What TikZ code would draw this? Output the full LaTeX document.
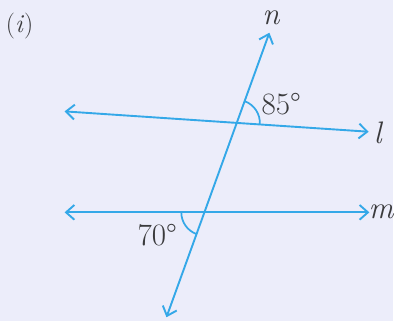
\documentclass[tikz,border=0pt]{standalone}
\definecolor{paperbg}{RGB}{236,237,250}
\definecolor{rayblue}{RGB}{52,168,232}
\definecolor{inkgray}{RGB}{58,58,60}
\usepackage{tikz}
\usetikzlibrary{arrows.meta,angles}
\tikzset{
  ray/.style={rayblue,line width=1.1pt,{Straight Barb[length=1.7mm,width=3mm]}-{Straight Barb[length=1.7mm,width=3mm]}},
  mark arc/.style={draw=rayblue,line width=1pt,angle radius=0.47cm},
  lbl/.style={inkgray,font=\fontsize{18}{20}\selectfont}
}
\begin{document}
\begin{tikzpicture}[x=0.02cm,y=0.02cm]
\fill[paperbg] (0,0) rectangle (400,327);
\coordinate (lL) at (65.7,213.7);
\coordinate (lR) at (375,193);
\coordinate (mL) at (65.7,111);
\coordinate (mR) at (375.7,111);
\coordinate (nB) at (169.3,4.3);
\coordinate (nT) at (274,293.7);
\coordinate (P) at (intersection of lL--lR and nB--nT);
\coordinate (Q) at (intersection of mL--mR and nB--nT);
\draw[ray] (lL) -- (lR);
\draw[ray] (mL) -- (mR);
\draw[ray] (nB) -- (nT);
\pic[mark arc] {angle=lR--P--nT};
\pic[mark arc] {angle=mL--Q--nB};
\node[lbl] (labeln) at (276,309) {\textit{n}};
\node[lbl] (labell) at (385,192) {\textit{l}};
\node[lbl] (labelm) at (388,112) {\textit{m}};
\node[lbl] (angtop) at (286,221) {85°};
\node[lbl] (angbot) at (160,88) {70°};
\node[lbl,font=\fontsize{15}{17}\selectfont] (part) at (20,301) {(\textit{i})};
\end{tikzpicture}
\end{document}
